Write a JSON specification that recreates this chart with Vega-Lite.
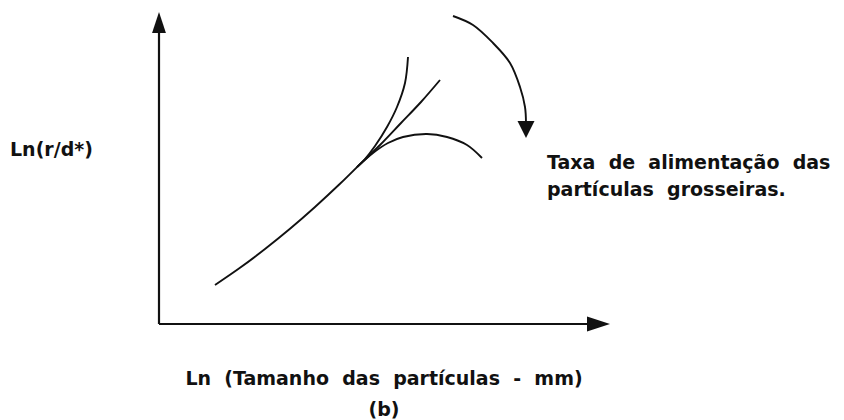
{
  "$schema": "https://vega.github.io/schema/vega-lite/v6.json",
  "width": 844,
  "height": 420,
  "autosize": {"type": "fit", "contains": "padding"},
  "padding": 0,
  "background": "white",
  "config": {"view": {"stroke": null}},
  "datasets": {
    "axes": [
      {"axis": "x", "x": 0, "y": 0},
      {"axis": "x", "x": 44.0, "y": 0},
      {"axis": "y", "x": 0, "y": 0},
      {"axis": "y", "x": 0, "y": 30.0}
    ],
    "curves": [
      {"curve": "main", "x": 5.6, "y": 3.9},
      {"curve": "main", "x": 8.1, "y": 5.62},
      {"curve": "main", "x": 10.6, "y": 7.5},
      {"curve": "main", "x": 13.1, "y": 9.52},
      {"curve": "main", "x": 15.6, "y": 11.7},
      {"curve": "main", "x": 18.1, "y": 14.02},
      {"curve": "main", "x": 19.8, "y": 15.69},
      {"curve": "steep", "x": 19.8, "y": 15.69},
      {"curve": "steep", "x": 20.6, "y": 16.5},
      {"curve": "steep", "x": 21.6, "y": 17.8},
      {"curve": "steep", "x": 22.8, "y": 19.7},
      {"curve": "steep", "x": 23.8, "y": 21.7},
      {"curve": "steep", "x": 24.6, "y": 24.1},
      {"curve": "steep", "x": 24.9, "y": 26.7},
      {"curve": "linear", "x": 19.8, "y": 15.69},
      {"curve": "linear", "x": 22.1, "y": 17.9},
      {"curve": "linear", "x": 24.2, "y": 20.1},
      {"curve": "linear", "x": 26.2, "y": 22.2},
      {"curve": "linear", "x": 28.1, "y": 24.4},
      {"curve": "flat", "x": 19.8, "y": 15.69},
      {"curve": "flat", "x": 21.4, "y": 17.1},
      {"curve": "flat", "x": 22.9, "y": 18.1},
      {"curve": "flat", "x": 24.4, "y": 18.7},
      {"curve": "flat", "x": 26.8, "y": 19.0},
      {"curve": "flat", "x": 28.8, "y": 18.7},
      {"curve": "flat", "x": 30.8, "y": 17.9},
      {"curve": "flat", "x": 32.3, "y": 16.6},
      {"curve": "feed", "x": 29.4, "y": 30.8},
      {"curve": "feed", "x": 31.4, "y": 29.9},
      {"curve": "feed", "x": 33.4, "y": 28.1},
      {"curve": "feed", "x": 35.1, "y": 26.1},
      {"curve": "feed", "x": 36.1, "y": 23.7},
      {"curve": "feed", "x": 36.6, "y": 21.7},
      {"curve": "feed", "x": 36.7, "y": 20.1}
    ],
    "heads": [
      {"dir": "up", "x": 0, "y": 31.2},
      {"dir": "right", "x": 45.1, "y": 0},
      {"dir": "down", "x": 36.7, "y": 18.6}
    ],
    "notes": [
      {"text": "Ln(r/d*)", "x": -14.9, "y": 17.4},
      {"text": "Taxa\u00a0 de\u00a0 alimentação\u00a0 das", "x": 38.8, "y": 16.1},
      {"text": "partículas\u00a0 grosseiras.", "x": 38.8, "y": 13.4}
    ],
    "captions": [
      {"text": "Ln\u00a0 (Tamanho\u00a0 das\u00a0 partículas\u00a0 -\u00a0 mm)", "x": 22.5, "y": -5.5},
      {"text": "(b)", "x": 22.5, "y": -8.6}
    ]
  },
  "encoding": {
    "x": {"field": "x", "type": "quantitative", "scale": {"domain": [-15.9, 68.5], "nice": false, "zero": false}, "axis": null},
    "y": {"field": "y", "type": "quantitative", "scale": {"domain": [-9.6, 32.4], "nice": false, "zero": false}, "axis": null}
  },
  "layer": [
    {
      "data": {"name": "axes"},
      "mark": {"type": "line", "color": "#111", "strokeWidth": 2.2},
      "encoding": {"detail": {"field": "axis"}, "order": {"value": null}}
    },
    {
      "data": {"name": "curves"},
      "mark": {"type": "line", "color": "#111", "strokeWidth": 1.9, "interpolate": "catmull-rom"},
      "encoding": {"detail": {"field": "curve"}, "order": {"value": null}}
    },
    {
      "data": {"name": "heads"},
      "transform": [{"filter": "datum.dir === 'up'"}],
      "mark": {"type": "point", "filled": true, "opacity": 1, "color": "#111", "strokeWidth": 0, "shape": "M0,0L0.33,1L-0.33,1Z", "size": 1764, "angle": 0}
    },
    {
      "data": {"name": "heads"},
      "transform": [{"filter": "datum.dir === 'right'"}],
      "mark": {"type": "point", "filled": true, "opacity": 1, "color": "#111", "strokeWidth": 0, "shape": "M0,0L0.33,1L-0.33,1Z", "size": 2116, "angle": 90}
    },
    {
      "data": {"name": "heads"},
      "transform": [{"filter": "datum.dir === 'down'"}],
      "mark": {"type": "point", "filled": true, "opacity": 1, "color": "#111", "strokeWidth": 0, "shape": "M0,0L0.5,1L-0.5,1Z", "size": 1156, "angle": 180}
    },
    {
      "data": {"name": "notes"},
      "mark": {"type": "text", "align": "left", "baseline": "middle", "font": "DejaVu Sans", "fontWeight": "bold", "fontSize": 19, "color": "#111"},
      "encoding": {"text": {"field": "text"}}
    },
    {
      "data": {"name": "captions"},
      "mark": {"type": "text", "align": "center", "baseline": "middle", "font": "DejaVu Sans", "fontWeight": "bold", "fontSize": 19, "color": "#111"},
      "encoding": {"text": {"field": "text"}}
    }
  ]
}
